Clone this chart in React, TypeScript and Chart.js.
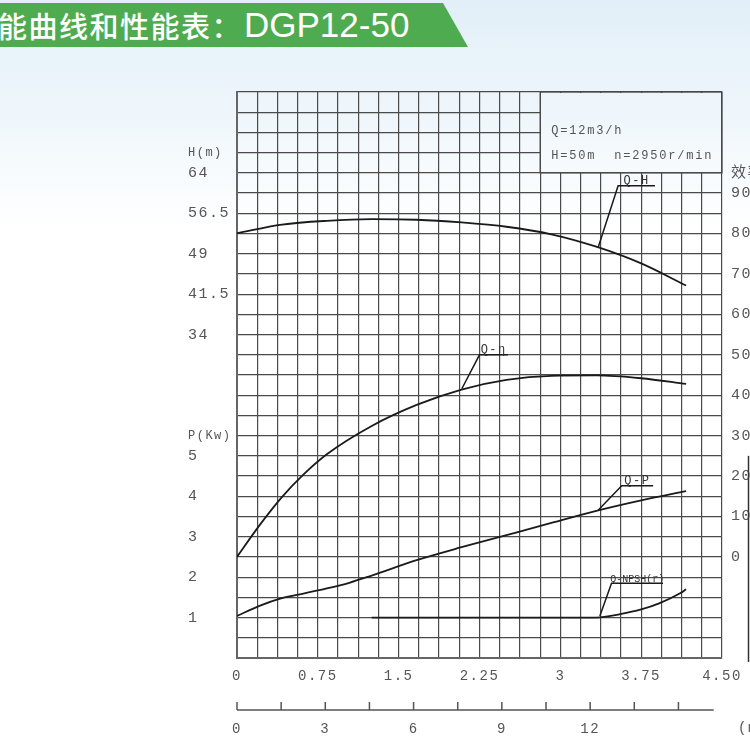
import React, { useEffect, useRef } from 'react';
import { Chart, registerables } from 'chart.js';

Chart.register(...registerables);

// ---- data ----
// flow (m3/h) and head (m) for the Q-H curve
const qHead = [0, 1.5, 3, 4.5, 6, 7.5, 9, 10.5, 12, 13.5, 15];
const head = [52.8, 54.4, 55.1, 55.4, 55.3, 54.8, 54.0, 52.6, 50.3, 47.2, 43.1];
// efficiency (%) for the Q-η curve
const qEff = [0, 0.75, 1.5, 2.25, 3, 4.5, 6, 7.5, 9, 10.5, 12, 13.5, 15];
const eff = [0, 7.8, 14.8, 20.6, 25.4, 32.4, 37.6, 41.4, 43.8, 44.8, 44.9, 44.2, 42.8];
// shaft power (kW) for the Q-P curve
const qPower = [0, 0.75, 1.5, 2.25, 3, 3.75, 4.5, 6, 7.5, 9, 10.5, 12, 13.5, 15];
const power = [1.04, 1.29, 1.48, 1.6, 1.72, 1.86, 2.04, 2.42, 2.74, 3.04, 3.34, 3.64, 3.9, 4.13];
// NPSH(r) (m)
const qNpsh = [4.5, 6, 9, 12, 12.8, 13.5, 14.1, 14.8, 15];
const npsh = [2.0, 2.0, 2.0, 2.0, 2.17, 2.4, 2.7, 3.2, 3.4];

// tick labels
const flowLsLabels = ['0', '0.75', '1.5', '2.25', '3', '3.75', '4.50']; // l/s, every 4 grid columns
const flowM3Labels = [0, 3, 6, 9, 12, 15];
const headLabels = [34, 41.5, 49, 56.5, 64];
const powerLabels = [1, 2, 3, 4, 5];
const effLabels = [0, 10, 20, 30, 40, 50, 60, 70, 80, 90];

const titleCn = '能曲线和性能表：';
const titleModel = 'DGP12-50';
const infoLines = ['Q=12m3/h', 'H=50m  n=2950r/min'];

// curve name annotations (data coordinates: flow, value on own axis)
const curveNames = [
  { text: 'Q-H', axis: 'yH', from: [12.06, 50.1], to: [12.73, 61.6], end: 13.96, size: 12 },
  { text: 'Q-η', axis: 'yE', from: [7.51, 41.6], to: [8.1, 50.0], end: 9.05, size: 12 },
  { text: 'Q-P', axis: 'yP', from: [12.07, 3.66], to: [12.85, 4.26], end: 13.9, size: 12 },
  { text: 'Q-NPSH(r)', axis: 'yN', from: [12.12, 2.08], to: [12.51, 3.7], end: 14.23, size: 10 },
];

// grid geometry (flow in m3/h; 4.5 l/s = 16.2 m3/h, 24 columns; 28 rows)
const FLOW_MAX = 16.2;
const COL = 0.675;
const ROWS = 28;
const BOX_COL = 15;
const BOX_ROW = 24;

const MONO = "'Liberation Mono', 'Noto Sans CJK SC', monospace";
const GRID = '#4a4a4a';
const TEXT = '#555';

const pts = (xs: number[], ys: number[]) => xs.map((x, i) => ({ x, y: ys[i] }));

const near = (a: number, b: number) => Math.abs(a - b) < 1e-6;

const drawPlugin = {
  id: 'pumpDecor',
  beforeDraw(chart: any) {
    chart.ctx.letterSpacing = '1.5px';
  },
  beforeDatasetsDraw(chart: any) {
    const { ctx, chartArea, scales } = chart;
    const x0 = scales.x.getPixelForValue(BOX_COL * COL);
    const y1 = scales.yL.getPixelForValue(BOX_ROW);
    ctx.save();
    ctx.clearRect(x0 + 1, chartArea.top + 1, chartArea.right - x0 - 2, y1 - chartArea.top - 2);
    ctx.strokeStyle = GRID;
    ctx.lineWidth = 1.2;
    ctx.strokeRect(x0, chartArea.top, chartArea.right - x0, y1 - chartArea.top);
    ctx.fillStyle = TEXT;
    ctx.font = `12px ${MONO}`;
    ctx.letterSpacing = '1.8px';
    ctx.textBaseline = 'middle';
    ctx.textAlign = 'left';
    ctx.fillText(infoLines[0], x0 + 11, y1 - 42);
    ctx.fillText(infoLines[1], x0 + 11, y1 - 17);
    ctx.restore();
  },
  afterDatasetsDraw(chart: any) {
    const { ctx, scales } = chart;
    ctx.save();
    ctx.strokeStyle = '#1a1a1a';
    ctx.fillStyle = '#333';
    ctx.lineWidth = 1.5;
    curveNames.forEach((c) => {
      const ys = scales[c.axis];
      const fx = scales.x.getPixelForValue(c.from[0]);
      const fy = ys.getPixelForValue(c.from[1]);
      const tx = scales.x.getPixelForValue(c.to[0]);
      const ty = ys.getPixelForValue(c.to[1]);
      const ex = scales.x.getPixelForValue(c.end);
      ctx.beginPath();
      ctx.moveTo(fx, fy);
      ctx.lineTo(tx, ty);
      ctx.lineTo(ex, ty);
      ctx.stroke();
      ctx.font = `${c.size}px ${MONO}`;
      ctx.letterSpacing = c.size > 10 ? '1.5px' : '0px';
      ctx.textAlign = 'center';
      ctx.textBaseline = 'bottom';
      ctx.fillText(c.text, (tx + ex) / 2, ty + 1);
    });
    ctx.restore();
  },
  afterDraw(chart: any) {
    const { ctx, scales } = chart;
    const xq = scales.xq;
    const baseY = xq.top + 16;
    ctx.save();
    ctx.strokeStyle = '#555';
    ctx.lineWidth = 1.5;
    ctx.beginPath();
    ctx.moveTo(xq.getPixelForValue(0), baseY);
    ctx.lineTo(xq.getPixelForValue(FLOW_MAX), baseY);
    for (let v = 0; v <= 15 + 1e-6; v += 1.5) {
      const px = xq.getPixelForValue(v);
      ctx.moveTo(px, baseY);
      ctx.lineTo(px, baseY - 8);
    }
    ctx.stroke();
    ctx.fillStyle = TEXT;
    ctx.font = `14px ${MONO}`;
    ctx.letterSpacing = '1.5px';
    ctx.textAlign = 'left';
    ctx.textBaseline = 'top';
    ctx.fillText('(m3/h)', xq.right + 16, xq.top + 27);
    // NPSH axis line at right edge (partly visible)
    const yN = scales.yN;
    ctx.strokeStyle = '#333';
    ctx.lineWidth = 1.5;
    ctx.beginPath();
    ctx.moveTo(scales.yE.right - 1.5, yN.getPixelForValue(10));
    ctx.lineTo(scales.yE.right - 1.5, yN.getPixelForValue(0) + 4);
    ctx.stroke();
    ctx.restore();
    ctx.letterSpacing = '0px';
  },
};

export default function App() {
  const ref = useRef<HTMLCanvasElement | null>(null);

  useEffect(() => {
    if (!ref.current) return;
    const lineStyle = {
      borderColor: '#1a1a1a',
      borderWidth: 1.8,
      pointRadius: 0,
      fill: false,
      cubicInterpolationMode: 'monotone' as const,
      xAxisID: 'x',
    };
    const chart = new Chart(ref.current, {
      type: 'line',
      data: {
        datasets: [
          { ...lineStyle, label: 'Q-H', data: pts(qHead, head), yAxisID: 'yH' },
          { ...lineStyle, label: 'Q-η', data: pts(qEff, eff), yAxisID: 'yE' },
          { ...lineStyle, label: 'Q-P', data: pts(qPower, power), yAxisID: 'yP' },
          { ...lineStyle, label: 'Q-NPSH(r)', data: pts(qNpsh, npsh), yAxisID: 'yN' },
        ],
      },
      options: {
        responsive: false,
        animation: false,
        devicePixelRatio: 1,
        layout: { padding: { left: 188, top: 92, right: 0, bottom: 0 } },
        plugins: { legend: { display: false }, tooltip: { enabled: false }, title: { display: false } },
        scales: {
          x: {
            type: 'linear',
            position: 'bottom',
            min: 0,
            max: FLOW_MAX,
            grid: { color: GRID, lineWidth: 1.2, drawTicks: false },
            border: { display: true, color: '#666', width: 2 },
            ticks: {
              stepSize: COL,
              autoSkip: false,
              maxRotation: 0,
              padding: 10,
              color: TEXT,
              font: { family: MONO, size: 14 },
              callback: (v: any, i: number) => (i % 4 === 0 ? flowLsLabels[i / 4] ?? '' : ''),
            },
            afterFit: (s: any) => {
              s.height = 36;
            },
          },
          xq: {
            type: 'linear',
            position: 'bottom',
            min: 0,
            max: 16.48,
            grid: { display: false, drawTicks: false },
            border: { display: false },
            ticks: {
              stepSize: 1.5,
              autoSkip: false,
              maxRotation: 0,
              padding: 27,
              color: TEXT,
              font: { family: MONO, size: 14 },
              callback: (v: any) => (flowM3Labels.some((t) => near(t, Number(v))) ? String(Math.round(Number(v))) : ''),
            },
            afterFit: (s: any) => {
              s.height = 56;
            },
          },
          yL: {
            type: 'linear',
            position: 'left',
            min: 0,
            max: ROWS,
            grid: { color: GRID, lineWidth: 1.2, drawTicks: false },
            border: { display: true, color: '#666', width: 2 },
            ticks: {
              stepSize: 1,
              autoSkip: false,
              crossAlign: 'far',
              padding: 0,
              color: TEXT,
              font: (ctx: any) => ({
                family: MONO,
                size: ctx.tick && (ctx.tick.value === 25 || ctx.tick.value === 11) ? 12 : 15,
              }),
              callback: (v: any) => {
                const r = Number(v);
                if (r === 25) return 'H(m)';
                if (r === 11) return 'P(Kw)';
                const h = -26 + r * 3.75;
                if (headLabels.some((t) => near(t, h))) return String(h);
                const p = r / 2;
                if (powerLabels.some((t) => near(t, p))) return String(p);
                return '';
              },
            },
            afterFit: (s: any) => {
              s.width = 49;
            },
          },
          yE: {
            type: 'linear',
            position: 'right',
            min: -25,
            max: 115,
            grid: { display: false, drawTicks: false },
            border: { display: false },
            ticks: {
              stepSize: 5,
              autoSkip: false,
              padding: 9,
              color: TEXT,
              font: { family: MONO, size: 15 },
              callback: (v: any) => {
                const e = Number(v);
                if (near(e, 95)) return '效率(%)';
                return effLabels.some((t) => near(t, e)) ? String(e) : '';
              },
            },
            afterFit: (s: any) => {
              s.width = 28;
            },
          },
          yH: { type: 'linear', display: false, min: -26, max: 79 },
          yP: { type: 'linear', display: false, min: 0, max: 14 },
          yN: { type: 'linear', display: false, min: 0, max: 28 },
        },
      } as any,
      plugins: [drawPlugin],
    });
    return () => chart.destroy();
  }, []);

  return (
    <div
      style={{
        position: 'fixed',
        left: 0,
        top: 0,
        width: 750,
        height: 750,
        overflow: 'hidden',
        background: 'linear-gradient(to bottom, #e2eff8 0px, #eef6fb 110px, #ffffff 230px)',
      }}
    >
      <canvas ref={ref} width={750} height={750} style={{ position: 'absolute', left: 0, top: 0, width: 750, height: 750 }} />
      <div
        style={{
          position: 'absolute',
          left: 0,
          top: 3,
          width: 470,
          height: 44,
          background: '#4fab4f',
          clipPath: 'polygon(0 0, 443px 0, 468px 100%, 0 100%)',
          display: 'flex',
          alignItems: 'center',
          whiteSpace: 'nowrap',
          color: '#ffffff',
        }}
      >
        <span style={{ fontFamily: "'Noto Sans CJK SC', sans-serif", fontSize: 29, fontWeight: 500, letterSpacing: 1.5, marginLeft: -2 }}>
          {titleCn}
        </span>
        <span style={{ fontFamily: "'Liberation Sans', Arial, sans-serif", fontSize: 35, marginLeft: 2 }}>{titleModel}</span>
      </div>
    </div>
  );
}
